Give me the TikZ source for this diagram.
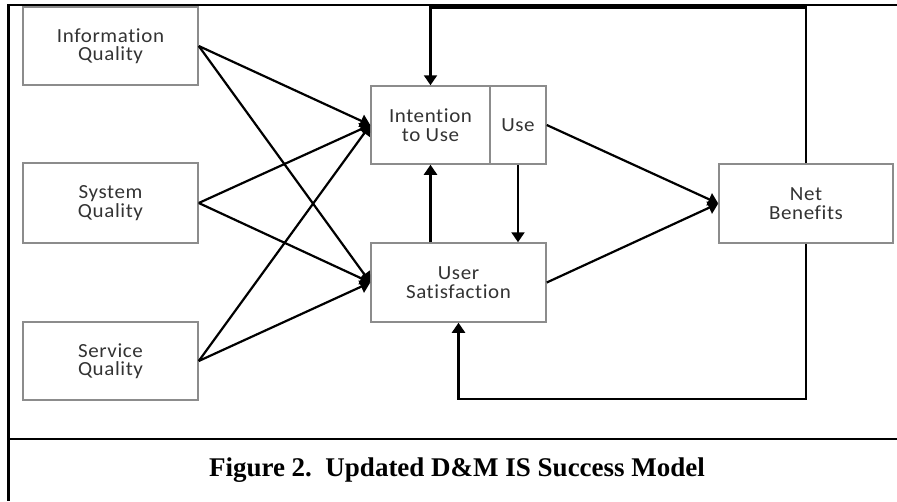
\documentclass[tikz,border=0pt]{standalone}
\usepackage{fontspec}
\newfontfamily\boxfont[FakeStretch=1.05, LetterSpace=3, Ligatures=NoCommon]{Carlito}
\newfontfamily\capfont{Liberation Serif}
\usetikzlibrary{arrows.meta}
\definecolor{boxgray}{HTML}{8C8C8C}
\definecolor{txtgray}{HTML}{333333}
\tikzset{
  blk/.style={draw=boxgray, line width=1.5pt, inner sep=0pt, align=center,
    text=txtgray, font=\boxfont\fontsize{20}{18.5}\selectfont},
  conn/.style={line width=2.2pt, -{Triangle[length=10pt,width=13pt]}},
  frame/.style={line width=2.2pt}
}
\begin{document}
\begin{tikzpicture}[x=1pt,y=-1pt]
\useasboundingbox (0,0) rectangle (897,501);
% frame
\draw[frame] (897,5) -- (8.5,5) -- (8.5,501);
\draw[frame] (8.5,439) -- (897,439);
% boxes
\node[blk, minimum width=175pt, minimum height=78pt] (info) at (110.5,46) {Information\\Quality};
\node[blk, minimum width=175pt, minimum height=80pt] (sys) at (110.5,203) {System\\Quality};
\node[blk, minimum width=175pt, minimum height=78pt] (serv) at (110.5,361) {Service\\Quality};
\node[blk, minimum width=119pt, minimum height=78pt] (int) at (430.5,125) {Intention\\to Use};
\node[blk, minimum width=56pt, minimum height=78pt] (use) at (518,125) {Use};
\node[blk, minimum width=175pt, minimum height=79pt] (us) at (458.5,282.5) {User\\Satisfaction};
\node[blk, minimum width=174pt, minimum height=79pt] (nb) at (806,203.5) {Net\\Benefits};
% connectors
\foreach \s in {info,sys,serv}{
  \draw[conn] (\s.east) -- (int.west);
  \draw[conn] (\s.east) -- (us.west);
}
\draw[conn] (use.east) -- (nb.west);
\draw[conn] (us.east) -- (nb.west);
\coordinate (topy) at (0,7.5);
\coordinate (boty) at (0,399);
\draw[conn] (nb.north) -- (nb.north |- topy) -- (int.north |- topy) -- (int.north);
\draw[conn] (nb.south) -- (nb.south |- boty) -- (us.south |- boty) -- (us.south);
\draw[conn] (us.north -| int.south) -- (int.south);
\draw[conn] (use.south) -- (us.north -| use.south);
% caption
\node[font=\capfont\bfseries\fontsize{27}{30}\selectfont, inner sep=0pt] (cap) at (457,470) {Figure 2.\ \ Updated D\&M IS Success Model};
\end{tikzpicture}
\end{document}
